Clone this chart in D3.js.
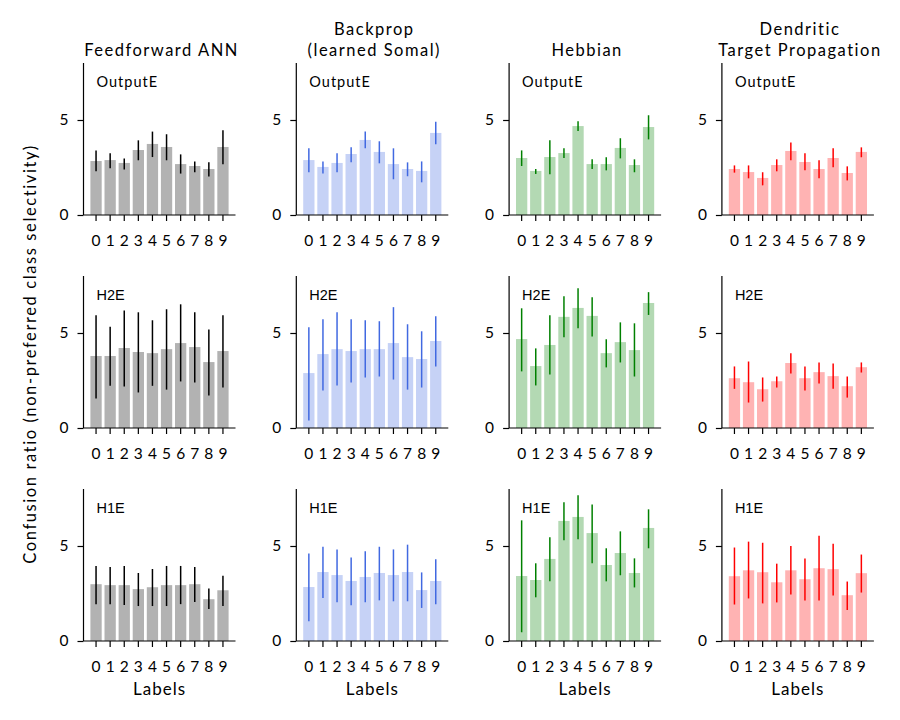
<!DOCTYPE html>
<html><head><meta charset="utf-8">
<script src="https://cdn.jsdelivr.net/npm/d3@7"></script>
<style>body{margin:0;background:#fff}</style>
</head><body>
<svg id="c" width="900" height="720"></svg>
<script>
const labels = ["0","1","2","3","4","5","6","7","8","9"];
const layers = ["OutputE","H2E","H1E"];
const models = [["Feedforward ANN"],["Backprop","(learned Somal)"],["Hebbian"],["Dendritic","Target Propagation"]];
const yTicks = [0,5];

// rows: OutputE, H2E, H1E
const ffMean = [
 [2.84,2.89,2.74,3.42,3.74,3.58,2.68,2.58,2.42,3.58],
 [3.79,3.79,4.21,4.00,3.94,4.15,4.47,4.26,3.47,4.05],
 [2.99,2.94,2.94,2.73,2.83,2.94,2.94,2.99,2.20,2.67]];
const ffLo = [
 [2.30,2.46,2.40,2.88,3.05,2.88,2.18,2.25,2.02,2.67],
 [1.55,2.22,2.18,1.87,2.22,2.02,2.45,2.39,1.71,2.13],
 [1.94,1.94,1.89,1.84,1.84,1.84,1.94,2.05,1.68,1.84]];
const ffHi = [
 [3.39,3.25,2.98,3.93,4.39,4.25,3.19,2.82,2.77,4.46],
 [5.93,5.33,6.18,6.09,5.67,6.25,6.51,6.09,5.19,5.93],
 [3.95,3.90,3.95,3.58,3.79,3.95,3.95,3.90,2.76,3.43]];

const bpMean = [
 [2.89,2.53,2.74,3.21,3.95,3.32,2.68,2.42,2.32,4.32],
 [2.89,3.89,4.15,4.05,4.15,4.15,4.47,3.73,3.63,4.58],
 [2.84,3.63,3.47,3.16,3.37,3.58,3.47,3.63,2.68,3.16]];
const bpLo = [
 [2.25,2.19,2.25,2.77,3.51,2.72,1.88,2.04,1.72,3.72],
 [0.39,1.97,2.24,2.39,2.66,2.71,2.55,2.02,2.13,3.24],
 [1.04,2.26,2.04,1.88,2.04,2.14,2.09,2.09,1.74,1.93]];
const bpHi = [
 [3.51,2.82,3.25,3.56,4.39,3.88,3.51,2.77,2.82,4.91],
 [5.30,5.72,6.09,5.72,5.67,5.62,6.36,5.46,5.09,5.88],
 [4.61,4.96,4.82,4.40,4.72,4.96,4.82,5.07,3.61,4.30]];

const hbMean = [
 [3.00,2.32,3.05,3.26,4.68,2.68,2.68,3.53,2.63,4.63],
 [4.68,3.26,4.37,5.85,6.32,5.90,3.94,4.52,4.10,6.58],
 [3.42,3.21,4.32,6.32,6.53,5.68,4.00,4.63,3.58,5.95]];
const hbLo = [
 [2.58,2.16,2.14,3.00,4.42,2.42,2.35,2.98,2.25,3.98],
 [2.98,2.24,2.82,4.77,5.25,4.82,3.19,3.45,2.71,5.95],
 [0.46,2.30,3.14,5.30,5.35,4.09,3.14,3.46,2.82,4.88]];
const hbHi = [
 [3.40,2.42,3.93,3.51,4.93,2.93,3.04,4.04,2.93,5.25],
 [6.30,4.19,5.93,6.94,7.36,6.88,4.67,5.56,5.51,7.15],
 [6.35,4.09,5.46,7.30,7.67,7.19,4.88,5.77,4.35,6.93]];

const dtMean = [
 [2.42,2.26,1.95,2.63,3.37,2.79,2.42,3.00,2.21,3.32],
 [2.62,2.41,2.04,2.46,3.42,2.62,2.94,2.73,2.20,3.20],
 [3.41,3.72,3.62,3.09,3.72,3.25,3.83,3.78,2.41,3.57]];
const dtLo = [
 [2.23,1.93,1.56,2.30,2.88,2.35,1.93,2.51,1.82,3.04],
 [2.06,1.34,1.39,2.13,2.87,1.97,2.34,2.06,1.60,2.92],
 [1.92,2.24,1.98,2.03,2.45,2.13,2.13,2.40,1.63,2.55]];
const dtHi = [
 [2.61,2.61,2.25,2.93,3.82,3.25,2.88,3.51,2.56,3.56],
 [3.24,3.50,2.66,2.71,3.93,3.24,3.45,3.40,2.71,3.45],
 [4.92,5.23,5.17,4.07,5.00,4.34,5.54,5.12,3.13,4.55]];

const modelData = [
 {mean:ffMean, lo:ffLo, hi:ffHi, bar:"#b2b2b2", err:"#000000"},
 {mean:bpMean, lo:bpLo, hi:bpHi, bar:"#c6d2f6", err:"#4169e1"},
 {mean:hbMean, lo:hbLo, hi:hbHi, bar:"#b3d9b3", err:"#008000"},
 {mean:dtMean, lo:dtLo, hi:dtHi, bar:"#ffb3b3", err:"#ff0000"}];

const FONT = "Lato, 'Noto Sans', sans-serif";
const svg = d3.select("#c");
const W = 152, H = 152;
const lefts = [83.5, 296.3, 509.1, 721.9];
const tops = [63, 276, 489];

models.forEach((title, c) => {
  const md = modelData[c];
  layers.forEach((layer, r) => {
    const g = svg.append("g").attr("transform", `translate(${lefts[c]},${tops[r]})`);
    const x = d3.scaleBand().domain(labels).range([0, W]).paddingInner(0.2).paddingOuter(0.49);
    const y = d3.scaleLinear().domain([0, 8]).range([H, 0]);
    const rows = labels.map((l, i) => ({l, m: md.mean[r][i], lo: md.lo[r][i], hi: md.hi[r][i]}));
    g.selectAll("rect").data(rows).join("rect")
      .attr("x", d => x(d.l)).attr("width", x.bandwidth())
      .attr("y", d => y(d.m)).attr("height", d => y(0) - y(d.m))
      .attr("fill", md.bar);
    g.selectAll("line.err").data(rows).join("line").attr("class","err")
      .attr("x1", d => x(d.l) + x.bandwidth()/2).attr("x2", d => x(d.l) + x.bandwidth()/2)
      .attr("y1", d => y(d.lo)).attr("y2", d => y(d.hi))
      .attr("stroke", md.err).attr("stroke-width", 1.5);
    const xa = g.append("g").attr("transform", `translate(0,${H})`)
      .call(d3.axisBottom(x).tickSize(6).tickPadding(14));
    const ya = g.append("g").call(d3.axisLeft(y).tickValues(yTicks).tickSize(6).tickPadding(9));
    [xa, ya].forEach(a => {
      a.select(".domain").attr("stroke", "#000").attr("stroke-width", 1.2);
      a.selectAll(".tick line").attr("stroke", "#000").attr("stroke-width", 1.2);
      a.selectAll("text").attr("font-family", FONT).attr("font-size", 15.5).attr("fill", "#000");
    });
    xa.select(".domain").attr("d", `M0,0H${W}`);
    ya.select(".domain").attr("d", `M0,${H}V0`);
    g.append("text").attr("x", 13).attr("y", 24).text(layer)
      .attr("font-family", r === 0 ? FONT : "'Liberation Sans', Arial, sans-serif")
      .attr("letter-spacing", r === 0 ? 1 : 0)
      .attr("font-size", r === 0 ? 14.5 : 14.5).attr("fill", "#000");
    if (r === 2) {
      g.append("text").attr("x", W/2).attr("y", H + 54).attr("text-anchor", "middle")
        .attr("letter-spacing", 1)
        .text("Labels").attr("font-family", FONT).attr("font-size", 17);
    }
    if (r === 0) {
      const t = g.append("text").attr("x", W/2 + 2).attr("text-anchor", "middle")
        .attr("font-family", FONT).attr("font-size", 16.5).attr("letter-spacing", 1.5);
      title.forEach((line, k) => {
        t.append("tspan").attr("x", W/2 + 2).attr("y", -7 - (title.length - 1 - k) * 21).text(line);
      });
    }
  });
});

svg.append("text").attr("transform", "translate(36,354) rotate(-90)")
  .attr("text-anchor", "middle").attr("font-family", FONT).attr("font-size", 16.5)
  .attr("letter-spacing", 1.6)
  .text("Confusion ratio (non-preferred class selectivity)");
</script>
</body></html>
